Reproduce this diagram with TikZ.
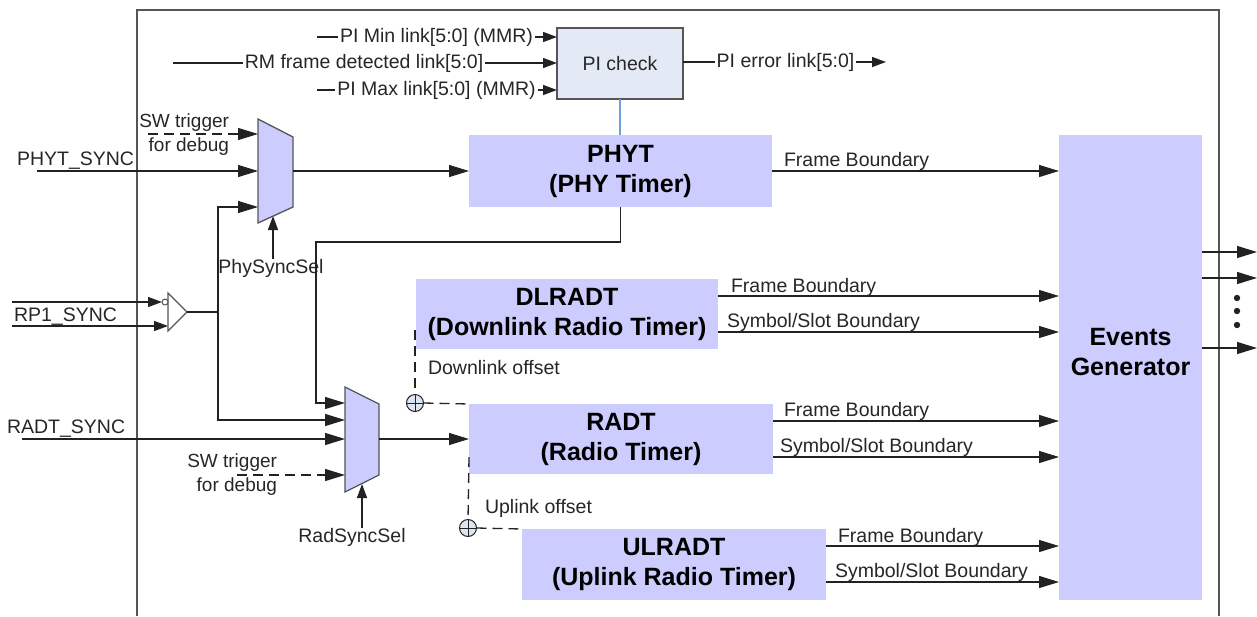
\documentclass[tikz,border=0pt]{standalone}
\usepackage{fontspec}
\setmainfont{Liberation Sans}
\usetikzlibrary{arrows.meta}
\definecolor{lav}{HTML}{CCCCFF}
\definecolor{pibox}{HTML}{E3EAF6}
\definecolor{ln}{HTML}{222222}
\definecolor{frm}{HTML}{555555}
\definecolor{piline}{HTML}{6F9FDC}
\definecolor{opfill}{HTML}{DCE6F2}
\begin{document}
\begin{tikzpicture}[x=1pt,y=-1pt,
  every node/.style={inner sep=0pt, outer sep=0pt},
  lbl/.style={font=\fontsize{19.5}{24}\selectfont, text=black!85},
  sw/.style={font=\fontsize{19}{24}\selectfont, align=right, text=black!85},
  title/.style={font=\fontsize{25}{30}\selectfont\bfseries, align=center, text=black},
  timer/.style={fill=lav, title},
  wire/.style={draw=ln, line width=1.3pt},
  arr/.style={wire, -{Triangle[length=20pt,width=12pt]}},
  sarr/.style={wire, -{Triangle[length=14pt,width=10pt]}},
  dsh/.style={draw=ln, line width=1.3pt, dash pattern=on 10pt off 6pt},
  muxshape/.style={fill=lav, draw=frm, line width=1.3pt},
  oplus/.style={circle, draw=ln, fill=opfill, line width=1pt, minimum size=17pt}
]
\useasboundingbox (0,0) rectangle (1257,616);

% outer frame
\draw[frm, line width=1.6pt] (137,616) -- (137,10) -- (1219,10) -- (1219,616);

% PI check
\node[draw=frm, fill=pibox, line width=1.3pt, minimum width=126pt, minimum height=71pt, lbl] (pic) at (620,63.5) {PI check};
\coordinate (pmin0) at (317,37);
\coordinate (rm0) at (173,63);
\coordinate (pmax0) at (317,90);
\coordinate (perr1) at (886,62);
\node[lbl, inner xsep=2pt] (tmin) at (436.5,37) {PI Min link[5:0] (MMR)};
\node[lbl, inner xsep=2pt] (trm) at (364,63) {RM frame detected link[5:0]};
\node[lbl, inner xsep=2pt] (tmax) at (436.5,90) {PI Max link[5:0] (MMR)};
\node[lbl, inner xsep=2pt] (terr) at (785.5,62) {PI error link[5:0]};
\draw[wire] (pmin0) -- (tmin.west);
\draw[sarr] (tmin.east) -- (pic.west |- tmin.east);
\draw[wire] (rm0) -- (trm.west);
\draw[sarr] (trm.east) -- (pic.west |- trm.east);
\draw[wire] (pmax0) -- (tmax.west);
\draw[sarr] (tmax.east) -- (pic.west |- tmax.east);
\draw[wire] (pic.east |- terr.west) -- (terr.west);
\draw[sarr] (terr.east) -- (perr1);

% timer boxes
\node[timer, minimum width=303pt, minimum height=72pt] (phyt) at (620.5,171) {PHYT\\(PHY Timer)};
\node[timer, minimum width=302pt, minimum height=70pt] (dl) at (567,314) {DLRADT\\(Downlink Radio Timer)};
\node[timer, minimum width=304pt, minimum height=70pt] (radt) at (621,439) {RADT\\(Radio Timer)};
\node[timer, minimum width=304pt, minimum height=71pt] (ul) at (674,564.5) {ULRADT\\(Uplink Radio Timer)};
\node[fill=lav, minimum width=143pt, minimum height=465pt] (ev) at (1130.5,367.5) {};
\node[title] (evt) at (1130.5,352) {Events\\Generator};

\draw[piline, line width=1.3pt] (pic.south) -- (phyt.north -| pic.south);

% PHYT mux
\coordinate (m1a) at (258,119);
\coordinate (m1b) at (293,137);
\coordinate (m1c) at (293,207);
\coordinate (m1d) at (258,223);
\draw[muxshape] (m1a) -- (m1b) -- (m1c) -- (m1d) -- cycle;
\coordinate (m1in1) at (258,134);
\coordinate (m1in2) at (258,171);
\coordinate (m1in3) at (258,207);
\coordinate (m1sel) at (273,216);
\coordinate (m1out) at (293,171);

\node[sw, anchor=east] (sw1) at (229,135) {SW trigger\\for debug};
\coordinate (sw1s) at (148,134);
\draw[dsh, -{Triangle[length=20pt,width=12pt]}] (sw1s) -- (m1in1);
\node[lbl, anchor=west] (physync) at (17,161) {PHYT\_SYNC};
\coordinate (physs) at (37,171);
\draw[arr] (physs) -- (m1in2);
\node[lbl] (physel) at (271,268) {PhySyncSel};
\draw[sarr] (physel.north -| m1sel) -- (m1sel);
\draw[arr] (m1out) -- (phyt.west |- m1out);

% RP1 buffer
\coordinate (bfa) at (168,293);
\coordinate (bfo) at (187,312);
\coordinate (bfb) at (168,331);
\draw[draw=frm, line width=1.2pt, fill=white] (bfa) -- (bfo) -- (bfb) -- cycle;
\node[circle, draw=frm, line width=1pt, fill=white, minimum size=6pt] (bub) at (165,302) {};
\coordinate (bfin2) at (168,326);
\coordinate (rp1a) at (12,302);
\coordinate (rp1b) at (12,326);
\draw[sarr] (rp1a) -- (bub.west);
\draw[sarr] (rp1b) -- (bfin2);
\node[lbl, anchor=west] (rp1) at (14,317) {RP1\_SYNC};
\coordinate (jn) at (218,312);
\draw[wire] (bfo) -- (jn);
\draw[arr] (jn) |- (m1in3);

% RADT mux
\coordinate (m2a) at (345,387);
\coordinate (m2b) at (379,404);
\coordinate (m2c) at (379,475);
\coordinate (m2d) at (345,492);
\draw[muxshape] (m2a) -- (m2b) -- (m2c) -- (m2d) -- cycle;
\coordinate (m2in1) at (345,403);
\coordinate (m2in2) at (345,420);
\coordinate (m2in3) at (345,439);
\coordinate (m2in4) at (345,475);
\coordinate (m2sel) at (362,484);
\coordinate (m2out) at (379,439);

\draw[arr] (jn) |- (m2in2);
\coordinate (t1) at (316,242);
\draw[arr] (phyt.south) |- (t1) |- (m2in1);
\node[lbl, anchor=west] (radsync) at (7,429) {RADT\_SYNC};
\coordinate (radss) at (22,439);
\draw[arr] (radss) -- (m2in3);
\node[sw, anchor=east] (sw2) at (277,474.5) {SW trigger\\for debug};
\coordinate (sw2s) at (237,475);
\draw[dsh, -{Triangle[length=20pt,width=12pt]}] (sw2s) -- (m2in4);
\node[lbl] (radsel) at (352,537) {RadSyncSel};
\draw[sarr] (radsel.north -| m2sel) -- (m2sel);
\draw[arr] (m2out) -- (radt.west |- m2out);

% offsets
\node[oplus] (op1) at (415,403) {};
\draw[ln, line width=1pt] (op1.north) -- (op1.south) (op1.west) -- (op1.east);
\coordinate (d1) at (415,330);
\draw[dsh] (d1) -- (op1.north);
\draw[dsh] (op1.east) -- (radt.north west);
\node[lbl, anchor=west] (dloff) at (428,368) {Downlink offset};

\node[oplus] (op2) at (468,528) {};
\draw[ln, line width=1pt] (op2.north) -- (op2.south) (op2.west) -- (op2.east);
\coordinate (u1) at (469,457);
\draw[dsh] (u1) -- (op2.north);
\draw[dsh] (op2.east) -- (ul.north west);
\node[lbl, anchor=west] (uloff) at (485,508) {Uplink offset};

% timer outputs
\draw[arr] (phyt.east) -- (ev.west |- phyt.east);
\node[lbl, anchor=west] (fb0) at (784,161) {Frame Boundary};

\coordinate (dl1) at (718,296);
\coordinate (dl2) at (718,332);
\draw[arr] (dl1) -- (ev.west |- dl1);
\draw[arr] (dl2) -- (ev.west |- dl2);
\node[lbl, anchor=west] (fb1) at (731,287) {Frame Boundary};
\node[lbl, anchor=west] (ss1) at (727,322) {Symbol/Slot Boundary};

\coordinate (rd1) at (773,421);
\coordinate (rd2) at (773,457);
\draw[arr] (rd1) -- (ev.west |- rd1);
\draw[arr] (rd2) -- (ev.west |- rd2);
\node[lbl, anchor=west] (fb2) at (784,411) {Frame Boundary};
\node[lbl, anchor=west] (ss2) at (780,447) {Symbol/Slot Boundary};

\coordinate (ul1) at (826,546);
\coordinate (ul2) at (826,582);
\draw[arr] (ul1) -- (ev.west |- ul1);
\draw[arr] (ul2) -- (ev.west |- ul2);
\node[lbl, anchor=west] (fb3) at (838,537) {Frame Boundary};
\node[lbl, anchor=west] (ss3) at (835,572) {Symbol/Slot Boundary};

% events outputs
\coordinate (o1) at (1257,252);
\coordinate (o2) at (1257,278);
\coordinate (o3) at (1257,348);
\draw[arr] (ev.east |- o1) -- (o1);
\draw[arr] (ev.east |- o2) -- (o2);
\draw[arr] (ev.east |- o3) -- (o3);
\fill[ln] (1237,298) circle (3.2pt) (1237,311) circle (3.2pt) (1237,325) circle (3.2pt);
\end{tikzpicture}
\end{document}
